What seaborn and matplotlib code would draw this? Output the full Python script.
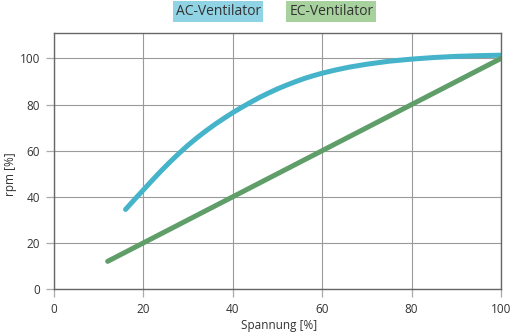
import matplotlib
matplotlib.use("Agg")
import matplotlib.pyplot as plt
import seaborn as sns
import pandas as pd

# Drehzahl in Abhängigkeit der Spannung
ac_spannung = [16, 18, 20, 22, 24, 26, 28, 30, 32, 34, 36, 38, 40, 42, 44, 46, 48, 50,
               52, 54, 56, 58, 60, 63, 66, 70, 75, 80, 85, 90, 95, 100]
ac_rpm = [34.5, 38.8, 43.0, 47.2, 51.3, 55.2, 58.9, 62.4, 65.6, 68.6, 71.4, 74.0, 76.5,
          78.8, 81.0, 83.1, 85.0, 86.8, 88.4, 89.9, 91.3, 92.5, 93.6, 95.0, 96.2, 97.5,
          98.8, 99.7, 100.4, 100.9, 101.2, 101.4]
ec_spannung = [12, 100]
ec_rpm = [12, 100]

x_ticks = [0, 20, 40, 60, 80, 100]
y_ticks = [0, 20, 40, 60, 80, 100]

df = pd.concat([
    pd.DataFrame({"Spannung": ac_spannung, "rpm": ac_rpm, "Typ": "AC-Ventilator"}),
    pd.DataFrame({"Spannung": ec_spannung, "rpm": ec_rpm, "Typ": "EC-Ventilator"}),
])

sns.set_theme(style="white")
plt.rcParams["font.family"] = ["Open Sans", "DejaVu Sans"]

ac_col = "#45b3c9"
ec_col = "#5f9e69"
txt_col = "#333333"
grid_col = "#9a9a9a"

fig = plt.figure(figsize=(5.12, 3.35), dpi=100)
ax = fig.add_axes([0.1055, 0.1373, 0.873, 0.764])

sns.lineplot(data=df, x="Spannung", y="rpm", hue="Typ",
             palette={"AC-Ventilator": ac_col, "EC-Ventilator": ec_col},
             linewidth=3.6, legend=False, ax=ax,
             solid_capstyle="round", solid_joinstyle="round")

ax.set_xlim(0, 100)
ax.set_ylim(0, 111)
ax.set_xticks(x_ticks)
ax.set_yticks(y_ticks)
ax.set_xticklabels([str(t) for t in x_ticks])
ax.set_yticklabels([str(t) for t in y_ticks])
ax.grid(True, color=grid_col, linewidth=0.8)
ax.set_axisbelow(True)
for s in ax.spines.values():
    s.set_color("#666666")
    s.set_linewidth(1.0)
ax.tick_params(axis="both", length=6, width=0.9, color="#aaaaaa",
               labelsize=8.5, labelcolor=txt_col, pad=4, direction="out",
               bottom=True, left=True)
ax.set_xlabel("Spannung [%]", fontsize=8.5, color=txt_col)
ax.set_ylabel("rpm [%]", fontsize=8.5, color=txt_col)
ax.xaxis.set_label_coords(0.503, -0.118)
ax.yaxis.set_label_coords(-0.083, 0.45)

# Legende als farbige Beschriftungsfelder
fig.text(0.426, 0.965, "AC-Ventilator", fontsize=10, color=txt_col,
         ha="center", va="center",
         bbox=dict(boxstyle="square,pad=0.2", fc="#8fd3e4", ec="none"))
fig.text(0.647, 0.965, "EC-Ventilator", fontsize=10, color=txt_col,
         ha="center", va="center",
         bbox=dict(boxstyle="square,pad=0.2", fc="#a7d29d", ec="none"))

fig.savefig("out.png", dpi=100)
